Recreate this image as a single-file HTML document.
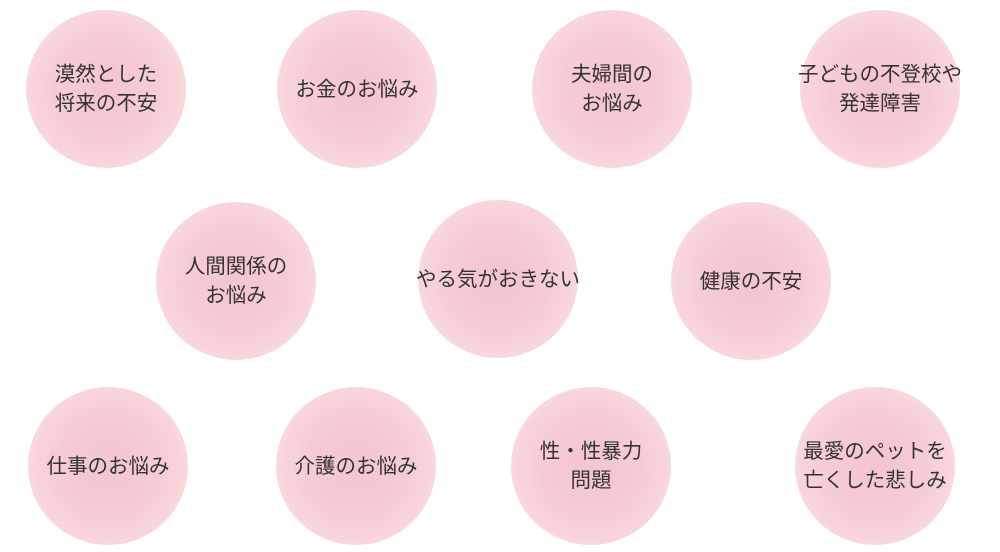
<!DOCTYPE html>
<html><head><meta charset="utf-8"><style>
body{margin:0;width:1000px;height:552px;background:#fff;position:relative;overflow:hidden;font-family:"Liberation Sans","Noto Sans CJK JP",sans-serif;}
.c{position:absolute;width:160px;height:158px;margin:-2px;border-radius:50%;
background:radial-gradient(circle at 50% 50%,#f4c5ce 0%,#f6ccd4 45%,#f8d6dc 68%,#fbe4e8 86%,rgba(253,238,241,0.5) 96%,rgba(255,255,255,0) 100%);
display:flex;align-items:center;justify-content:center;text-align:center;color:#333;font-size:20.5px;line-height:29px;white-space:nowrap;}
</style></head><body>
<div class="c" style="left:28px;top:12px">漠然とした<br>将来の不安</div>
<div class="c" style="left:279px;top:12px">お金のお悩み</div>
<div class="c" style="left:534px;top:12px">夫婦間の<br>お悩み</div>
<div class="c" style="left:802px;top:12px">子どもの不登校や<br>発達障害</div>
<div class="c" style="left:158px;top:204px">人間関係の<br>お悩み</div>
<div class="c" style="left:420px;top:202px">やる気がおきない</div>
<div class="c" style="left:673px;top:204px">健康の不安</div>
<div class="c" style="left:30px;top:389px">仕事のお悩み</div>
<div class="c" style="left:278px;top:389px">介護のお悩み</div>
<div class="c" style="left:513px;top:389px">性・性暴力<br>問題</div>
<div class="c" style="left:797px;top:389px">最愛のペットを<br>亡くした悲しみ</div>
</body></html>
